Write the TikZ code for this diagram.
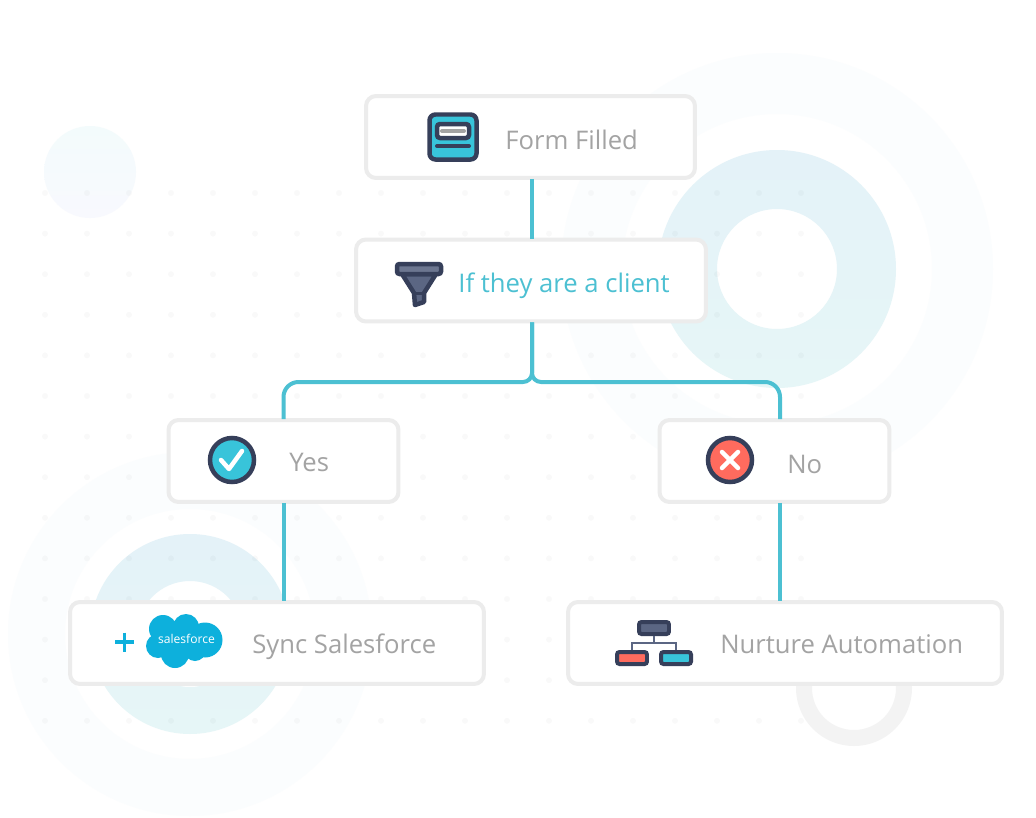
\documentclass[tikz,border=0pt]{standalone}
\usepackage{fontspec}
\setmainfont{Open Sans}
\definecolor{linkteal}{HTML}{4CC0D2}
\definecolor{boxedge}{HTML}{ECECEC}
\definecolor{labelgray}{HTML}{A3A3A3}
\definecolor{icondark}{HTML}{363F5A}
\definecolor{iconmid}{HTML}{5B6683}
\definecolor{iconlight}{HTML}{6C7690}
\definecolor{iconteal}{HTML}{38C4DA}
\definecolor{iconred}{HTML}{FF6B5E}
\definecolor{cloudblue}{HTML}{0DB0DC}
\definecolor{ringpale}{HTML}{FBFDFE}
\definecolor{ringtop}{HTML}{E4F2F8}
\definecolor{ringbottom}{HTML}{E6F6F7}
\definecolor{spottop}{HTML}{F3FBFC}
\definecolor{spotbottom}{HTML}{F8F9FE}
\definecolor{ringgray}{HTML}{F3F3F3}
\tikzset{
    flowbox/.style={rectangle, draw=boxedge, fill=white, line width=0.08cm, rounded corners=0.2cm},
    flowlink/.style={draw=linkteal, line width=0.08cm, shorten <=-0.02cm, shorten >=-0.02cm},
    flowlabel/.style={anchor=base west, inner sep=0pt, text=labelgray, font=\fontsize{14.6}{17}\selectfont},
    iconline/.style={draw=icondark, line width=0.09cm},
    treebox/.style={rectangle, draw=icondark, line width=0.08cm, rounded corners=0.05cm, minimum width=0.6cm, minimum height=0.24cm, inner sep=0pt},
    treelink/.style={draw=iconmid, line width=0.04cm}
}

\begin{document}
\begin{tikzpicture}[x=0.02cm, y=-0.02cm]
    \useasboundingbox (0,0) rectangle (1036,818);
    \fill[white] (0,0) rectangle (1036,818);

    % Rings
    \fill[ringpale, even odd rule] (777,269) circle (216) (777,269) circle (155);
    \shade[top color=ringtop, bottom color=ringbottom, even odd rule] (777,269) circle (119) (777,269) circle (60);
    \fill[ringpale, even odd rule] (190,634) circle (182) (190,634) circle (125);
    \shade[top color=ringtop, bottom color=ringbottom, even odd rule] (190,634) circle (100) (190,634) circle (53);
    \shade[top color=spottop, bottom color=spotbottom] (90,172) circle (46);
    \fill[ringgray, even odd rule] (854,688) circle (58) (854,688) circle (42);

    % Dots
    \foreach \col in {0,...,18}
        \foreach \row in {0,...,13}
            \fill[black, opacity=0.025] ({45+42*\col},{193+40.6*\row}) circle (3);

    % Nodes
    \node[flowbox, minimum width=6.58cm, minimum height=1.64cm] (form) at (530.5,137) {};
    \node[flowbox, minimum width=7cm, minimum height=1.64cm] (client) at (531,280.5) {};
    \node[flowbox, minimum width=4.6cm, minimum height=1.64cm] (yes) at (283.5,461) {};
    \node[flowbox, minimum width=4.6cm, minimum height=1.64cm] (no) at (774.5,461) {};
    \node[flowbox, minimum width=8.28cm, minimum height=1.64cm] (sync) at (277,643) {};
    \node[flowbox, minimum width=8.68cm, minimum height=1.64cm] (nurture) at (785,643) {};

    \coordinate (fork) at (532,382);
    \coordinate (nolink) at (780,382);

    % Lines
    \draw[flowlink] (fork |- form.south) -- (fork |- client.north);
    \draw[flowlink, rounded corners=0.3cm] (yes.north) -- (yes.north |- fork) [rounded corners=0.18cm] -- (fork) -- (fork |- client.south);
    \draw[flowlink, rounded corners=0.18cm] (fork |- client.south) -- (fork) [rounded corners=0.3cm] -- (nolink) -- (nolink |- no.north);
    \draw[flowlink] (yes.south) -- (yes.south |- sync.north);
    \draw[flowlink] (nolink |- no.south) -- (nolink |- nurture.north);

    % Labels
    \node[flowlabel] (formtext) at (505,149) {Form Filled};
    \node[flowlabel, text=linkteal] (clienttext) at (458,292) {If they are a client};
    \node[flowlabel] (yestext) at (289,471) {Yes};
    \node[flowlabel] (notext) at (787,473) {No};
    \node[flowlabel] (synctext) at (252,653) {Sync Salesforce};
    \node[flowlabel] (nurturetext) at (720,653) {Nurture Automation};

    % Form icon
    \draw[iconline, fill=iconteal, rounded corners=0.12cm] (429.5,114.5) rectangle (476.5,159.5);
    \draw[iconline, fill=white, rounded corners=0.06cm] (437,124) rectangle (469,138);
    \draw[labelgray, line width=0.08cm, line cap=round] (442,131) -- (464,131);
    \draw[icondark, line width=0.08cm, line cap=round] (437,146) -- (469,146);

    % Funnel icon
    \draw[iconline, fill=iconmid, line join=round] (402,274) -- (436,274) -- (424,293) -- (424,302) -- (415,305) -- (414,293) -- cycle;
    \draw[icondark, line width=0.06cm] (414,293) -- (424,293);
    \draw[iconline, fill=iconlight, rounded corners=0.05cm] (397,264) rectangle (441,274);

    % Yes and No icons
    \draw[iconline, fill=iconteal] (232,460) circle (22);
    \draw[white, line width=0.09cm, line cap=round, line join=round] (221,460) -- (229,469) -- (242,451);
    \draw[iconline, fill=iconred] (730,460) circle (22);
    \draw[white, line width=0.09cm, line cap=round] (722,452) -- (738,468) (738,452) -- (722,468);

    % Cloud icon
    \draw[cloudblue, line width=0.07cm] (115,642) -- (134,642) (124.5,632.5) -- (124.5,651.5);
    \fill[cloudblue] (163,629) circle (14) (186,627) circle (13) (205,640) circle (17.5)
        (158,646) circle (12) (175,654) circle (14) (195,650) circle (11) (183,640) circle (16);
    \node[font=\fontsize{6.9}{9}\selectfont, text=white, inner sep=0pt] (cloudtext) at (186.5,639) {salesforce};

    % Tree icon
    \node[treebox, fill=iconmid] (treetop) at (654,628) {};
    \node[treebox, fill=iconred] (treeleft) at (632,658) {};
    \node[treebox, fill=iconteal] (treeright) at (676,658) {};
    \draw[treelink] (treetop.south) -- ++(0,7) -| (treeleft.north);
    \draw[treelink] (treetop.south) -- ++(0,7) -| (treeright.north);
\end{tikzpicture}
\end{document}
